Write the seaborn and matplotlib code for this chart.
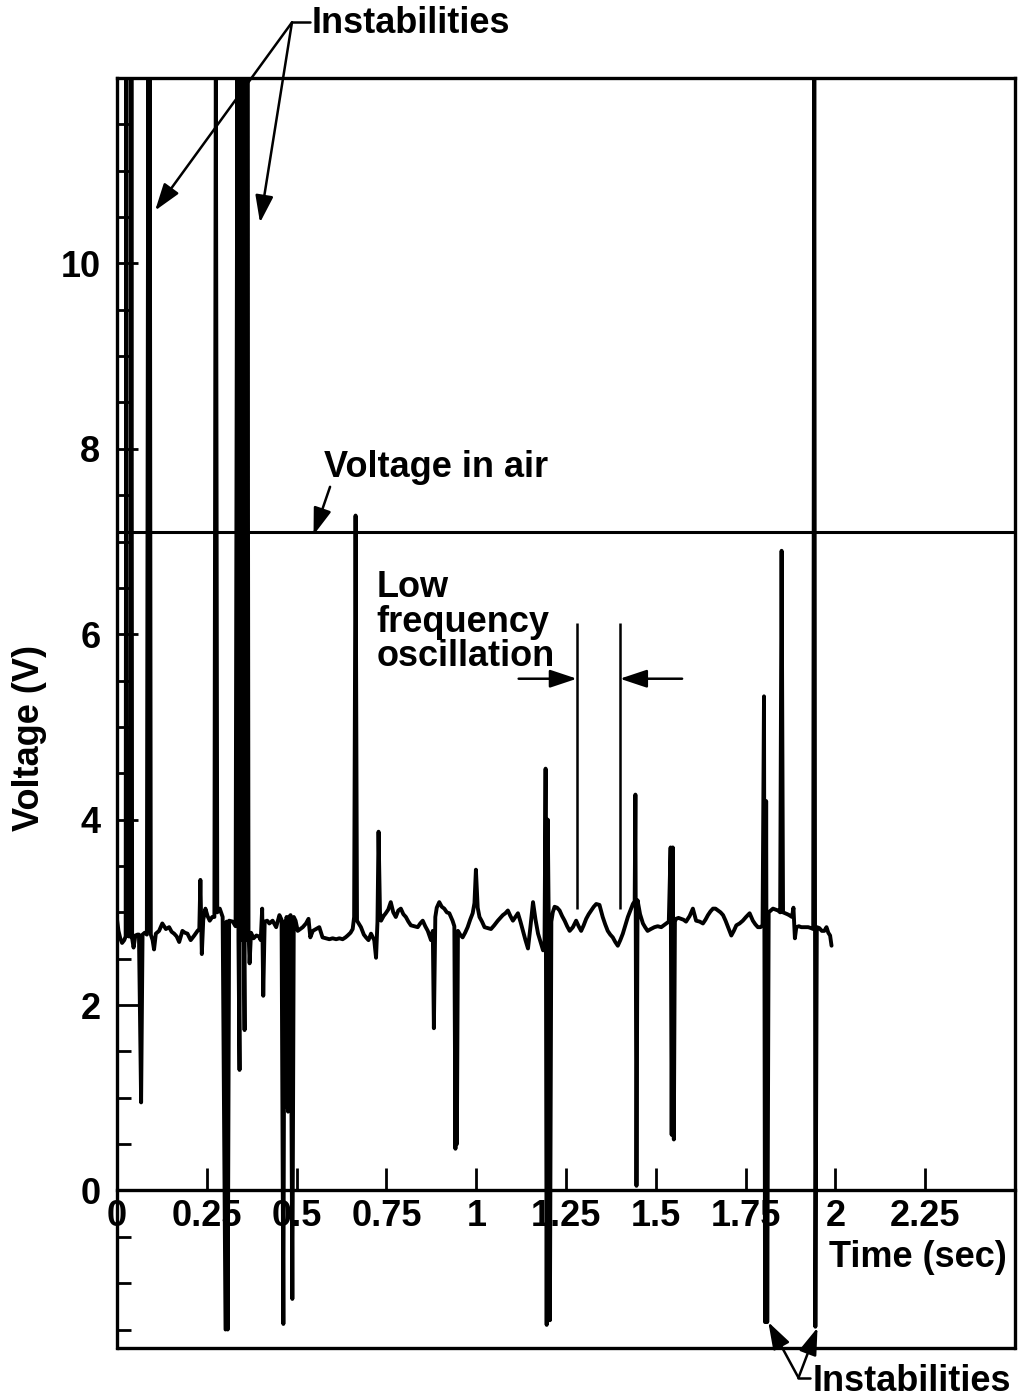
import pandas as pd
import matplotlib
matplotlib.use('Agg')
import matplotlib.pyplot as plt
from matplotlib.ticker import MultipleLocator
import seaborn as sns

# scope trace: time (sec) and voltage (V)
# spikes that leave the top of the frame are given 12.5 and get clipped
time_s = [
    0.000, 0.004, 0.009, 0.014, 0.020, 0.024, 0.026, 0.028, 0.033, 0.038,
    0.040, 0.042, 0.046, 0.051, 0.057, 0.061, 0.067, 0.071, 0.077, 0.083, 0.087,
    0.089, 0.091, 0.094, 0.099, 0.103, 0.108, 0.117, 0.126, 0.136, 0.145,
    0.152, 0.159, 0.166, 0.173, 0.182, 0.189, 0.196, 0.205, 0.215, 0.224,
    0.229, 0.232, 0.236, 0.240, 0.246, 0.252, 0.258, 0.265, 0.271, 0.275,
    0.279, 0.286, 0.294, 0.302, 0.305, 0.308, 0.312, 0.322, 0.330, 0.335,
    0.338, 0.341, 0.344, 0.347, 0.350, 0.353, 0.355, 0.358, 0.361, 0.363,
    0.366, 0.369, 0.373, 0.380, 0.388, 0.395, 0.400, 0.404, 0.407, 0.411,
    0.418, 0.424, 0.433, 0.443, 0.452, 0.458, 0.463, 0.466, 0.469, 0.472,
    0.476, 0.479, 0.483, 0.488, 0.492, 0.497, 0.503, 0.510, 0.517, 0.526,
    0.533, 0.538, 0.545, 0.554, 0.563, 0.572, 0.582, 0.591, 0.600, 0.610,
    0.619, 0.628, 0.636, 0.642, 0.650, 0.656, 0.660, 0.664, 0.668, 0.679,
    0.687, 0.693, 0.700, 0.707, 0.716, 0.721, 0.725, 0.728, 0.732, 0.735,
    0.742, 0.748, 0.755, 0.762, 0.769, 0.776, 0.783, 0.790, 0.797, 0.804,
    0.811, 0.818, 0.827, 0.837, 0.844, 0.851, 0.858, 0.865, 0.874, 0.879,
    0.882, 0.886, 0.890, 0.897, 0.904, 0.911, 0.918, 0.925, 0.934, 0.939,
    0.942, 0.944, 0.946, 0.949, 0.955, 0.962, 0.969, 0.976, 0.983, 0.990,
    0.995, 0.999, 1.004, 1.009, 1.016, 1.023, 1.032, 1.041, 1.050, 1.060,
    1.067, 1.074, 1.081, 1.088, 1.095, 1.102, 1.109, 1.116, 1.123, 1.130,
    1.137, 1.144, 1.151, 1.158, 1.165, 1.172, 1.179, 1.186, 1.190, 1.193,
    1.196, 1.199, 1.202, 1.205, 1.209, 1.213, 1.218, 1.225, 1.232, 1.239,
    1.246, 1.253, 1.260, 1.269, 1.278, 1.285, 1.292, 1.299, 1.306, 1.313,
    1.320, 1.327, 1.334, 1.343, 1.352, 1.359, 1.366, 1.373, 1.380, 1.387,
    1.394, 1.401, 1.408, 1.415, 1.422, 1.429, 1.436, 1.441, 1.443, 1.446,
    1.449, 1.456, 1.464, 1.470, 1.477, 1.486, 1.496, 1.505, 1.515, 1.522,
    1.529, 1.536, 1.541, 1.544, 1.547, 1.550, 1.553, 1.556, 1.563, 1.570,
    1.577, 1.584, 1.594, 1.603, 1.612, 1.622, 1.631, 1.638, 1.645, 1.652,
    1.659, 1.666, 1.673, 1.680, 1.687, 1.694, 1.701, 1.710, 1.717, 1.724,
    1.733, 1.742, 1.751, 1.761, 1.770, 1.777, 1.784, 1.791, 1.797, 1.801,
    1.804, 1.807, 1.810, 1.814, 1.820, 1.826, 1.833, 1.840, 1.846, 1.850,
    1.854, 1.860, 1.866, 1.871, 1.879, 1.883, 1.887, 1.891, 1.898, 1.905,
    1.914, 1.924, 1.932, 1.938, 1.941, 1.944, 1.948, 1.955, 1.962, 1.969,
    1.975, 1.980, 1.985, 1.989,
]
volts = [
    2.92, 2.80, 2.72, 2.67, 2.70, 2.74, 12.5, 2.75, 2.74, 2.74,
    12.5, 2.72, 2.62, 2.75, 2.76, 2.76, 0.95, 2.76, 2.78, 2.76, 12.5,
    2.80, 12.5, 2.76, 2.70, 2.60, 2.77, 2.80, 2.88, 2.82, 2.84,
    2.79, 2.77, 2.74, 2.68, 2.80, 2.78, 2.77, 2.70, 2.75, 2.80,
    2.82, 3.35, 2.55, 2.92, 3.04, 2.96, 2.91, 2.95, 2.95, 12.5,
    3.00, 3.04, 2.95, -1.50, 2.90, -1.50, 2.91, 2.90, 2.85, 12.5,
    2.70, 1.30, 12.5, 2.70, 12.5, 2.75, 1.73, 12.5, 2.70, 12.5,
    2.80, 2.45, 2.78, 2.72, 2.75, 2.74, 2.70, 3.04, 2.10, 2.90,
    2.91, 2.88, 2.91, 2.84, 2.97, 2.92, -1.44, 2.90, 0.90, 2.95,
    0.85, 2.95, 2.97, -1.17, 2.95, 2.91, 2.80, 2.82, 2.84, 2.88,
    2.93, 2.73, 2.80, 2.82, 2.84, 2.73, 2.72, 2.71, 2.72, 2.71,
    2.72, 2.71, 2.73, 2.75, 2.78, 2.82, 2.95, 7.28, 2.91, 2.84,
    2.76, 2.73, 2.70, 2.77, 2.70, 2.51, 2.90, 3.87, 3.00, 2.91,
    2.96, 2.99, 3.03, 3.11, 3.00, 2.95, 3.02, 3.04, 2.98, 2.95,
    2.90, 2.86, 2.85, 2.84, 2.88, 2.91, 2.85, 2.80, 2.70, 2.80,
    1.75, 2.95, 3.05, 3.11, 3.06, 3.04, 3.00, 2.99, 2.91, 2.85,
    0.45, 2.70, 0.50, 2.80, 2.76, 2.73, 2.78, 2.84, 2.92, 2.99,
    3.10, 3.46, 3.05, 2.95, 2.90, 2.84, 2.83, 2.82, 2.86, 2.91,
    2.94, 2.97, 2.99, 3.02, 2.96, 2.91, 2.95, 2.99, 2.90, 2.80,
    2.70, 2.61, 2.85, 3.11, 2.92, 2.77, 2.68, 2.59, 2.65, 4.55,
    -1.45, 4.00, 2.80, -1.40, 2.90, 3.00, 3.06, 3.05, 3.02, 2.96,
    2.91, 2.85, 2.80, 2.84, 2.91, 2.85, 2.80, 2.86, 2.93, 2.98,
    3.02, 3.06, 3.09, 3.08, 2.95, 2.87, 2.80, 2.76, 2.73, 2.68,
    2.64, 2.70, 2.77, 2.86, 2.95, 3.02, 3.09, 3.12, 4.27, 0.05,
    3.13, 2.98, 2.88, 2.84, 2.80, 2.82, 2.84, 2.85, 2.84, 2.86,
    2.88, 2.90, 3.70, 0.60, 3.70, 0.55, 2.90, 2.93, 2.94, 2.93,
    2.92, 2.90, 2.96, 3.04, 2.91, 2.90, 2.88, 2.92, 2.97, 3.01,
    3.04, 3.04, 3.02, 3.00, 2.97, 2.91, 2.84, 2.75, 2.80, 2.86,
    2.88, 2.91, 2.95, 2.99, 2.91, 2.87, 2.84, 2.84, 2.86, 5.33,
    -1.42, 4.20, -1.42, 3.00, 3.02, 3.04, 3.03, 3.02, 3.00, 6.90,
    3.00, 2.99, 2.98, 2.97, 2.95, 3.05, 2.72, 2.84, 2.85, 2.84,
    2.84, 2.84, 2.83, 2.82, 12.5, -1.47, 2.84, 2.83, 2.80, 2.80,
    2.84, 2.78, 2.75, 2.64,
]

air_voltage = 7.1
osc_marks = [1.28, 1.40]
osc_top = 6.12
osc_bottom = 3.04

x_ticks = [0, 0.25, 0.5, 0.75, 1, 1.25, 1.5, 1.75, 2, 2.25]
x_tick_labels = ['0', '0.25', '0.5', '0.75', '1', '1.25', '1.5', '1.75', '2', '2.25']
y_ticks = [0, 2, 4, 6, 8, 10]

df = pd.DataFrame({'t': time_s, 'V': volts})

sns.set_theme(style='white')
plt.rcParams['font.family'] = ['Liberation Sans', 'DejaVu Sans']
plt.rcParams['font.weight'] = 'bold'
plt.rcParams['text.color'] = 'black'
plt.rcParams['xtick.color'] = 'black'
plt.rcParams['ytick.color'] = 'black'

FS = 26
fig = plt.figure(figsize=(10.24, 14), dpi=100)
ax = fig.add_axes([0.1143, 0.0371, 0.877, 0.9072])

sns.lineplot(data=df, x='t', y='V', sort=False, estimator=None,
             color='black', lw=2.8, ax=ax)
ax.set_xlim(0, 2.5)
ax.set_ylim(-1.7, 12)

# voltage in air reference
ax.axhline(air_voltage, color='black', lw=2.2)

# frame plus the time axis sitting at 0 V
for s in ax.spines.values():
    s.set_linewidth(2.4)
    s.set_color('black')
ax.spines['bottom'].set_position(('data', 0))
ax.plot([0, 1], [0, 0], transform=ax.transAxes, color='black', lw=2.4,
        clip_on=False)

ax.set_xticks(x_ticks, x_tick_labels)
ax.set_yticks(y_ticks)
ax.yaxis.set_minor_locator(MultipleLocator(0.5))
ax.tick_params(axis='x', bottom=True, direction='in', length=16, width=2,
               pad=6, labelsize=FS, colors='black')
ax.tick_params(axis='y', which='major', left=True, direction='in', length=15,
               width=2, pad=12, labelsize=FS, colors='black')
ax.tick_params(axis='y', which='minor', left=True, direction='in', length=10,
               width=2, colors='black')
ax.set_xlabel('')
ax.set_ylabel('')
fig.text(30 / 1024, 1 - 738 / 1400, 'Voltage (V)', rotation=90, ha='center',
         va='center', fontsize=FS, fontweight='bold', color='black')
ax.text(1.981, -0.83, 'Time (sec)', fontsize=FS, fontweight='bold',
        va='baseline', ha='left')

arrow = dict(arrowstyle='-|>,head_length=0.75,head_width=0.25', color='black',
             lw=1.8, shrinkA=0, shrinkB=0, mutation_scale=22)

# top "Instabilities" callout
ax.plot([0.487, 0.537], [12.6, 12.6], color='black', lw=1.8, clip_on=False)
ax.text(0.542, 12.48, 'Instabilities', fontsize=FS, fontweight='bold',
        va='baseline', ha='left')
for head in [(0.106, 10.57), (0.398, 10.44)]:
    ax.annotate('', xy=head, xytext=(0.487, 12.6), arrowprops=arrow,
                annotation_clip=False)

# bottom "Instabilities" callout
ax.plot([1.897, 1.93], [-2.02, -2.02], color='black', lw=1.8, clip_on=False)
ax.text(1.935, -2.16, 'Instabilities', fontsize=FS, fontweight='bold',
        va='baseline', ha='left')
for head in [(1.813, -1.42), (1.95, -1.48)]:
    ax.annotate('', xy=head, xytext=(1.897, -2.02), arrowprops=arrow,
                annotation_clip=False)

# voltage in air callout
ax.text(0.575, 7.70, 'Voltage in air', fontsize=FS, fontweight='bold',
        va='baseline', ha='left')
ax.annotate('', xy=(0.547, 7.07), xytext=(0.593, 7.59), arrowprops=arrow)

# low frequency oscillation callout
for line, yb in zip(['Low', 'frequency', 'oscillation'], [6.40, 6.02, 5.66]):
    ax.text(0.723, yb, line, fontsize=FS, fontweight='bold', va='baseline',
            ha='left')
ax.vlines(osc_marks, osc_bottom, osc_top, color='black', lw=1.8)
ax.annotate('', xy=(osc_marks[0], 5.52), xytext=(1.118, 5.52), arrowprops=arrow)
ax.annotate('', xy=(osc_marks[1], 5.52), xytext=(1.573, 5.52), arrowprops=arrow)

fig.savefig('out.png', dpi=100)
